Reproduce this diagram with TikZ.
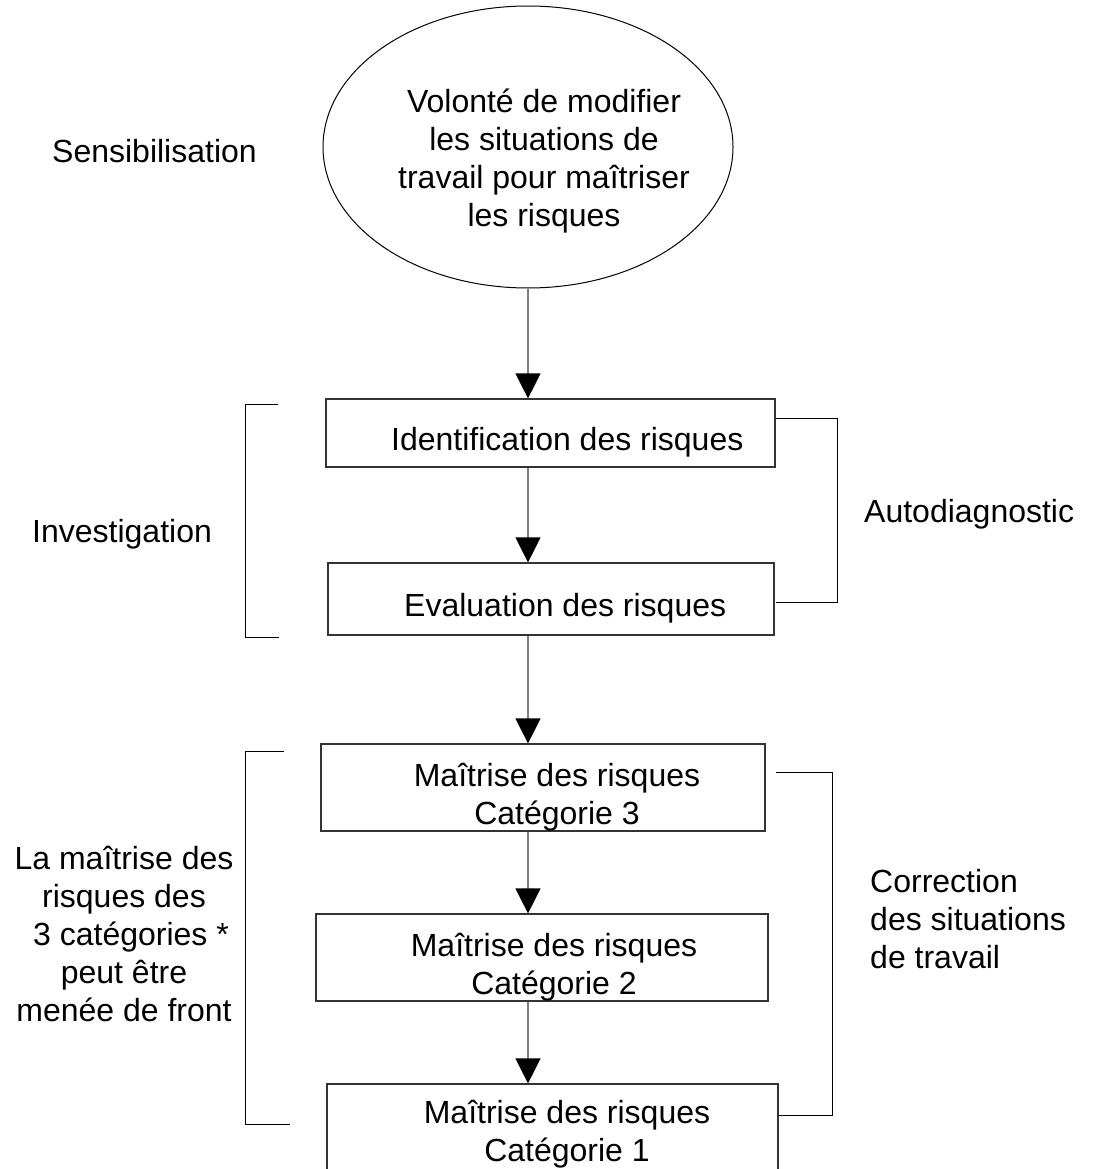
\documentclass[tikz,border=0pt]{standalone}
\usepackage{fontspec}
\setmainfont{Liberation Sans}
\usetikzlibrary{arrows.meta,shapes.geometric}
\begin{document}
\begin{tikzpicture}[x=1pt,y=-1pt,every node/.style={inner sep=0pt,font=\fontsize{32}{38}\selectfont},bx/.style={draw=black!80,line width=1.2pt,rectangle},ev/.style={draw,ellipse,line width=1pt,minimum width=410pt,minimum height=282pt},ar/.style={draw=black!50,line width=1.3pt,-{Triangle[width=25pt,length=25pt,color=black]}},br/.style={draw,line width=1pt}]
\useasboundingbox (0,0) rectangle (1093,1169);
\node[ev] (ell) at (528,147) {};
\node[align=center] (vol) at (544,161) {Volonté de modifier\\les situations de\\travail pour maîtriser\\les risques};
\node[bx,minimum width=449pt,minimum height=68pt] (b1) at (550.5,433) {};
\node[bx,minimum width=446pt,minimum height=72pt] (b2) at (551,599) {};
\node[bx,minimum width=444pt,minimum height=87pt] (b3) at (543,787.5) {};
\node[bx,minimum width=452pt,minimum height=87pt] (b4) at (542,957.5) {};
\node[bx,minimum width=451pt,minimum height=91pt] (b5) at (552.5,1129.5) {};
\node[anchor=base west] (tid) at (391,450) {Identification des risques};
\node[anchor=base west] (tev) at (404,616.7) {Evaluation des risques};
\node[align=center] (tm3) at (557,797) {Maîtrise des risques\\Catégorie 3};
\node[align=center] (tm2) at (554,967) {Maîtrise des risques\\Catégorie 2};
\node[align=center] (tm1) at (567,1134) {Maîtrise des risques\\Catégorie 1};
\node[anchor=base west] (sens) at (52,162.7) {Sensibilisation};
\node[anchor=base west] (inv) at (32,542.7) {Investigation};
\node[anchor=base west] (auto) at (864,522) {Autodiagnostic};
\node[align=center] (front) at (124,934) {La maîtrise des\\risques des\\\hspace*{14pt}3 catégories *\\peut être\hspace*{24pt}\\menée de front};
\node[align=left,anchor=west] (corr) at (870,919.5) {Correction\\des situations\\de travail};
\draw[ar] (ell.south) -- (ell.south |- b1.north);
\draw[ar] (b1.south -| ell.south) -- (b2.north -| ell.south);
\draw[ar] (b2.south -| ell.south) -- (b3.north -| ell.south);
\draw[ar] (b3.south -| ell.south) -- (b4.north -| ell.south);
\draw[ar] (b4.south -| ell.south) -- (b5.north -| ell.south);
\draw[br] (278,404) -- (245,404) -- (245,637) -- (279,637);
\draw[br] (776,418) -- (837,418) -- (837,602) -- (776,602);
\draw[br] (284,751) -- (245,751) -- (245,1124) -- (290,1124);
\draw[br] (776,772) -- (832,772) -- (832,1115) -- (b5.east |- 0,1115);
\end{tikzpicture}
\end{document}
